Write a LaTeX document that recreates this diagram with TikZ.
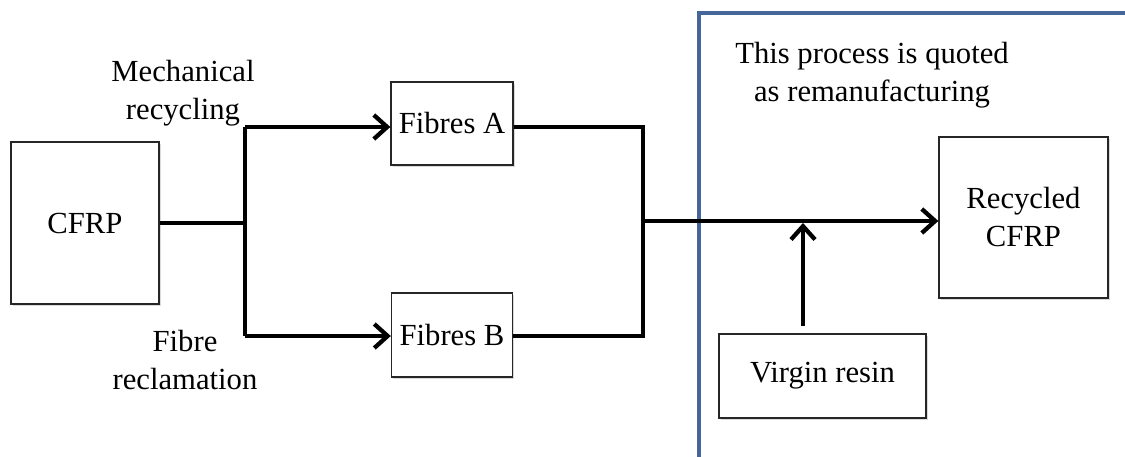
\documentclass[tikz,border=0pt]{standalone}
\usepackage{fontspec}
\setmainfont{Liberation Serif}
\usetikzlibrary{arrows.meta,shadows}
\definecolor{frameblue}{RGB}{68,102,155}
\begin{document}
\begin{tikzpicture}[x=0.75pt,y=-0.75pt,
  box/.style={draw=black!85,line width=1pt,fill=white,inner sep=0pt,align=center,
    font=\fontsize{23}{28.5}\selectfont,
    drop shadow={shadow xshift=1.2pt,shadow yshift=-1.2pt,opacity=0.3}},
  flow/.style={line width=3.2pt},
  arr/.style={flow,-{Straight Barb[length=10pt,width=18pt,line width=3.2pt]}},
  lbl/.style={align=center,font=\fontsize{23}{28.5}\selectfont,inner sep=0pt}]
\useasboundingbox (0,0) rectangle (1125,457);

% frame of the remanufacturing region
\draw[frameblue,line width=3pt] (699,458) -- (699,13) -- (1127,13);

% boxes
\node[box,minimum width=111pt,minimum height=121.5pt] (cfrp) at (85,223) {CFRP};
\node[box,minimum width=91.5pt,minimum height=62.25pt] (fa) at (452,123.5) {Fibres A};
\node[box,minimum width=90.75pt,minimum height=63pt] (fb) at (452,335) {Fibres B};
\node[box,minimum width=126.75pt,minimum height=120.75pt] (rec) at (1023.5,217.5) {Recycled\\CFRP};
\node[box,minimum width=155.25pt,minimum height=63pt] (vr) at (822.5,376) {Virgin resin};

% labels
\node[lbl] (mech) at (183,93) {Mechanical\\recycling};
\node[lbl] (fibrec) at (185,360) {Fibre\\reclamation};
\node[lbl] (note) at (872,75) {This process is quoted\\as remanufacturing};

% junctions
\coordinate (s) at (245,223);
\coordinate (st) at (245,127);
\coordinate (sb) at (245,336);
\coordinate (mt) at (643,127);
\coordinate (mb) at (643,336);
\coordinate (m) at (643,221);
\coordinate (up) at (803,223);
\coordinate (vb) at (803,326);

% connectors
\draw[flow] (cfrp.east) -- (s);
\draw[flow] (st) -- (sb);
\draw[arr] (st) -- (st -| fa.west);
\draw[arr] (sb) -- (sb -| fb.west);
\draw[flow] (fa.east |- mt) -- (mt) -- (mb) -- (fb.east |- mb);
\draw[arr] (m) -- (m -| rec.west);
\draw[arr] (vb) -- (up);
\end{tikzpicture}
\end{document}
